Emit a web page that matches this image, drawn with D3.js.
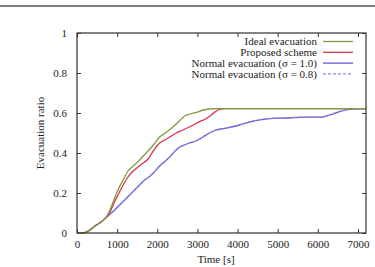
<!DOCTYPE html>
<html lang="en">
<head>
<meta charset="utf-8">
<title>Evacuation ratio</title>
<script src="https://d3js.org/d3.v7.min.js"></script>
<style>
  body { margin: 0; background: #fff; }
</style>
</head>
<body>
<div class="chart"></div>
<script>
var W = 375, H = 267;
var m = {top: 33, right: 9, bottom: 34, left: 77};
var w = W - m.left - m.right, h = H - m.top - m.bottom;
var serif = "'Liberation Serif', 'Times New Roman', Times, 'DejaVu Serif', serif";

// data
var seriesNames = ["Ideal evacuation", "Proposed scheme", "Normal evacuation (\u03c3 = 1.0)", "Normal evacuation (\u03c3 = 0.8)"];
var seriesColors = ["#7f9c3c", "#d83450", "#6659cf", "#8c88e4"];
var xTicks = [0, 1000, 2000, 3000, 4000, 5000, 6000, 7000];
var yTicks = [0, 0.2, 0.4, 0.6, 0.8, 1];

var ideal = [[0,0],[150,0],[300,0.012],[450,0.035],[600,0.055],[700,0.072],[800,0.105],[900,0.155],[1020,0.215],[1150,0.265],[1270,0.31],[1400,0.335],[1520,0.357],[1650,0.385],[1770,0.41],[1900,0.44],[2060,0.48],[2200,0.5],[2390,0.53],[2550,0.56],[2680,0.585],[2820,0.595],[2970,0.603],[3150,0.615],[3300,0.62],[3470,0.622],[4000,0.622],[5000,0.622],[6000,0.622],[7200,0.622]];
var proposed = [[0,0],[150,0],[300,0.012],[450,0.035],[600,0.055],[700,0.072],[800,0.095],[900,0.14],[1020,0.19],[1150,0.24],[1270,0.28],[1400,0.31],[1520,0.33],[1650,0.35],[1770,0.37],[1900,0.41],[2060,0.45],[2185,0.465],[2310,0.48],[2470,0.5],[2640,0.515],[2850,0.535],[3055,0.557],[3200,0.57],[3345,0.59],[3450,0.607],[3550,0.618],[3720,0.622],[5000,0.622],[6000,0.622],[7200,0.622]];
var normal10 = [[0,0],[150,0],[300,0.012],[450,0.035],[600,0.055],[700,0.073],[800,0.09],[940,0.115],[1060,0.14],[1190,0.165],[1310,0.19],[1435,0.215],[1560,0.24],[1685,0.265],[1810,0.282],[1935,0.307],[2060,0.335],[2185,0.357],[2310,0.38],[2430,0.407],[2560,0.43],[2680,0.44],[2805,0.45],[2970,0.46],[3140,0.48],[3300,0.5],[3470,0.515],[3650,0.522],[3800,0.528],[4050,0.54],[4300,0.555],[4600,0.567],[4880,0.573],[5200,0.575],[5545,0.578],[5800,0.579],[6085,0.579],[6300,0.59],[6540,0.607],[6790,0.618],[7000,0.621],[7200,0.622]];
var normal08 = [[0,0],[150,0],[300,0.013],[450,0.036],[600,0.056],[700,0.074],[800,0.091],[940,0.116],[1060,0.141],[1190,0.166],[1310,0.19],[1435,0.216],[1560,0.241],[1685,0.265],[1810,0.283],[1935,0.308],[2060,0.336],[2185,0.358],[2310,0.381],[2430,0.408],[2560,0.43],[2680,0.441],[2805,0.451],[2970,0.461],[3140,0.481],[3300,0.501],[3470,0.516],[3650,0.523],[3800,0.529],[4050,0.541],[4300,0.556],[4600,0.568],[4880,0.574],[5200,0.576],[5545,0.579],[5800,0.58],[6085,0.58],[6300,0.591],[6540,0.608],[6790,0.619],[7000,0.622],[7200,0.622]];
var seriesData = [ideal, proposed, normal10, normal08];

var svg = d3.select(".chart").append("svg")
  .attr("width", W)
  .attr("height", H)
  .attr("font-family", serif);

// rule at the top of the page
svg.append("line")
  .attr("x1", 0).attr("x2", W)
  .attr("y1", 6).attr("y2", 6)
  .style("stroke", "#555")
  .style("stroke-width", 1.5);

var g = svg.append("g")
  .attr("transform", "translate(" + m.left + "," + m.top + ")");

var x = d3.scaleLinear().domain([0, 7200]).range([0, w]);
var y = d3.scaleLinear().domain([0, 1]).range([h, 0]);

// inward ticks on all four sides, like gnuplot
var tickLen = 4;
g.append("g").attr("transform", "translate(0," + h + ")")
  .call(d3.axisBottom(x).tickValues(xTicks).tickSize(-tickLen).tickPadding(7).tickFormat(d3.format("d")));
g.append("g")
  .call(d3.axisTop(x).tickValues(xTicks).tickSize(-tickLen).tickFormat(""));
g.append("g")
  .call(d3.axisLeft(y).tickValues(yTicks).tickSize(-tickLen).tickPadding(10).tickFormat(function(d){ return String(+d.toFixed(1)); }));
g.append("g").attr("transform", "translate(" + w + ",0)")
  .call(d3.axisRight(y).tickValues(yTicks).tickSize(-tickLen).tickFormat(""));

g.selectAll("g").attr("font-family", serif).attr("font-size", 11);
g.selectAll(".domain").remove();
g.selectAll(".tick line").style("stroke", "#333");
g.selectAll(".tick text")
  .style("font-family", serif)
  .style("font-size", "11px")
  .style("fill", "#222");

var line = d3.line()
  .x(function(d){ return x(d[0]); })
  .y(function(d){ return y(d[1]); })
  .curve(d3.curveMonotoneX);

// draw lower series first so the dashed one sits on top
[2, 3, 1, 0].forEach(function(i){
  g.append("path")
    .datum(seriesData[i])
    .attr("d", line)
    .style("fill", "none")
    .style("stroke", seriesColors[i])
    .style("stroke-width", i === 3 ? 1.2 : 1.3)
    .style("stroke-dasharray", i === 3 ? "3,2" : null);
});

// frame
g.append("rect")
  .attr("width", w).attr("height", h)
  .style("fill", "none")
  .style("stroke", "#333")
  .style("stroke-width", 1.2);

// legend
var legend = g.append("g");
seriesNames.forEach(function(name, i){
  var ly = 8.5 + i * 10.8;
  legend.append("text")
    .attr("x", 240)
    .attr("y", ly)
    .attr("dy", "0.35em")
    .attr("text-anchor", "end")
    .style("font-family", serif)
    .style("font-size", "11px")
    .style("fill", "#222")
    .text(name);
  legend.append("line")
    .attr("x1", 246).attr("x2", 276)
    .attr("y1", ly).attr("y2", ly)
    .style("stroke", seriesColors[i])
    .style("stroke-width", 1.3)
    .style("stroke-dasharray", i === 3 ? "3,2" : null);
});

// axis titles
svg.append("text")
  .attr("x", 216)
  .attr("y", 263)
  .attr("text-anchor", "middle")
  .style("font-family", serif)
  .style("font-size", "11px")
  .style("fill", "#222")
  .text("Time [s]");
svg.append("text")
  .attr("transform", "translate(44," + (m.top + h / 2) + ") rotate(-90)")
  .attr("text-anchor", "middle")
  .style("font-family", serif)
  .style("font-size", "11px")
  .style("fill", "#222")
  .text("Evacuation ratio");
</script>
</body>
</html>
